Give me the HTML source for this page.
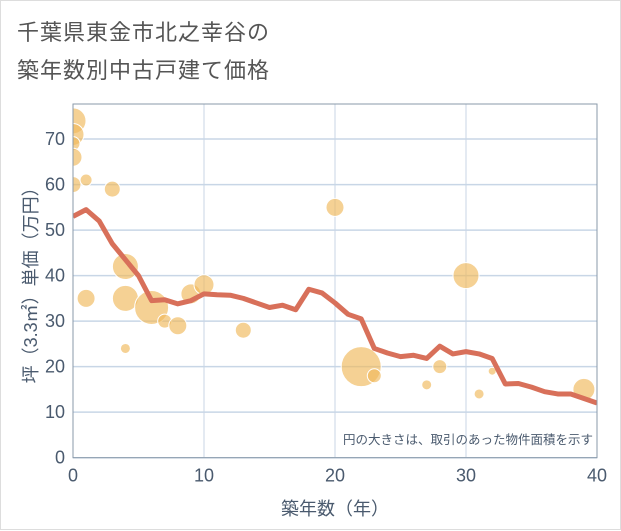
<!DOCTYPE html>
<html><head><meta charset="utf-8"><style>
body{margin:0;background:#fff;}
#wrap{position:relative;width:619px;height:528px;border:1px solid #ddd;font-family:"Liberation Sans","Noto Sans CJK JP",sans-serif;}
.t{position:absolute;left:16px;font-size:22px;color:#555;letter-spacing:1px;}
</style></head><body>
<div id="wrap">
<div class="t" style="top:14px">千葉県東金市北之幸谷の</div>
<div class="t" style="top:52px">築年数別中古戸建て価格</div>
<svg id="c" width="621" height="530" style="position:absolute;left:0;top:0"></svg>
</div>
<script>
const lineYears=[0,1,2,3,4,5,6,7,8,9,10,11,12,13,14,15,16,17,18,19,20,21,22,23,24,25,26,27,28,29,30,31,32,33,34,35,36,37,38,39,40];
const lineValues=[53,54.5,52,47,43.5,40,34.5,34.7,33.8,34.5,36,35.8,35.7,35,34,33,33.5,32.5,37,36.2,34,31.5,30.5,24,23,22.2,22.5,21.8,24.5,22.8,23.3,22.8,21.8,16.2,16.3,15.5,14.5,14,14,13,12];
const bubbleYears=[0,0,0,0,0,1,3,4,4,1,4,6,7,8,9,10,13,20,22,23,27,28,30,31,32,39];
const bubbleValues=[74,71,69,66,60,61,59,42,35,35,24,33,30,29,36,38,28,55,20,18,16,20,40,14,19,15];
const bubbleRadii=[13,11,7,9,8,6,8,13,13,9,5,17,7,9,10,10,8,9,20,7,5,7,13,5,4,11];
const xTicks=[0,10,20,30,40];
const yTicks=[0,10,20,30,40,50,60,70];
const NS='http://www.w3.org/2000/svg';
const svg=document.getElementById('c');
const L=72,R=596,T=103,B=456.7,xMax=40,yMax=77.7;
const X=v=>L+(R-L)*v/xMax, Y=v=>B-(B-T)*v/yMax;
function mk(tag,a,txt,parent){const e=document.createElementNS(NS,tag);for(const k in a)e.setAttribute(k,a[k]);if(txt!==undefined&&txt!==null)e.textContent=txt;(parent||svg).appendChild(e);return e;}
const defs=mk('defs',{});
const cp=mk('clipPath',{id:'plotclip'},null,defs);
mk('rect',{x:L,y:T,width:R-L,height:B-T},null,cp);
yTicks.forEach(v=>{const g=mk('line',{x1:L,x2:R,y1:Y(v),y2:Y(v),stroke:'#c8d6e6','stroke-width':1.5});

const t=mk('text',{x:L-8,y:Y(v)+6,'text-anchor':'end','font-size':18,fill:'#4a5a6e'},v);
});
xTicks.forEach(v=>{const g=mk('line',{x1:X(v),x2:X(v),y1:T,y2:B,stroke:'#c8d6e6','stroke-width':1});

const t=mk('text',{x:X(v),y:B+24,'text-anchor':'middle','font-size':18,fill:'#4a5a6e'},v);
});
const gp=mk('g',{'clip-path':'url(#plotclip)'});

bubbleYears.forEach((yr,i)=>{const c=mk('circle',{cx:X(yr),cy:Y(bubbleValues[i]),r:bubbleRadii[i],fill:'rgba(240,185,90,0.65)',stroke:'#fff','stroke-width':1},null,gp);
});
const p=mk('polyline',{points:lineYears.map((yr,i)=>X(yr)+','+Y(lineValues[i])).join(' '),fill:'none',stroke:'#d8705a','stroke-width':5,'stroke-linejoin':'round'},null,gp);

const fr=mk('rect',{x:L,y:T,width:R-L,height:B-T,fill:'none',stroke:'#8a9aaa','stroke-width':1});

const n=mk('text',{x:R-4,y:443,'text-anchor':'end','font-size':12.5,fill:'#4a5a6e'},'円の大きさは、取引のあった物件面積を示す');

const xt=mk('text',{x:(L+R)/2,y:514,'text-anchor':'middle','font-size':18,fill:'#4a5a6e'},'築年数（年）');

const yt=mk('text',{x:0,y:0,'text-anchor':'middle','font-size':18,fill:'#4a5a6e',transform:'translate(36,'+((T+B)/2)+') rotate(-90)'},'坪（3.3㎡）単価（万円）');

</script>
</body></html>
